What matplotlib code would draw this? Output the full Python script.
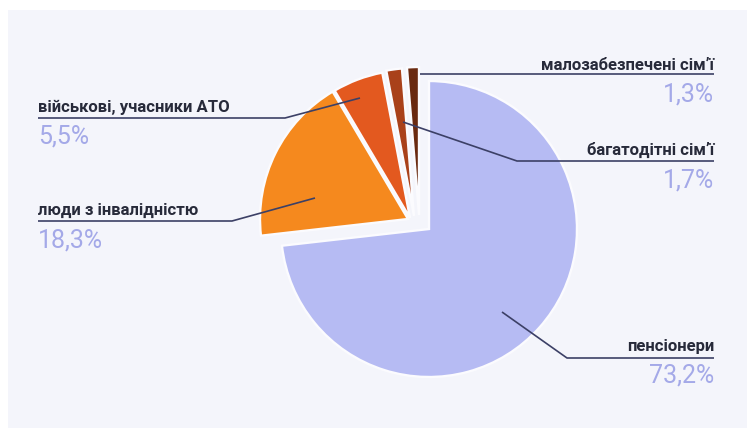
import matplotlib
matplotlib.use("Agg")
import matplotlib.pyplot as plt
from matplotlib.patches import Rectangle

# ---- data ----
categories = ["пенсіонери", "люди з інвалідністю", "військові, учасники АТО",
              "багатодітні сім\u02bcї", "малозабезпечені сім\u02bcї"]
values = [73.2, 18.3, 5.5, 1.7, 1.3]
pct_labels = ["73,2%", "18,3%", "5,5%", "1,7%", "1,3%"]

colors = ["#b6bbf3", "#f5891e", "#e3591f", "#a9411a", "#6a2a10"]

W, H = 747, 428
fig = plt.figure(figsize=(W / 100, H / 100), dpi=100)
fig.patch.set_facecolor("white")
ax = fig.add_axes([0, 0, 1, 1])
ax.set_xlim(0, W)
ax.set_ylim(0, H)
ax.set_aspect("equal")
ax.axis("off")

def Y(ypx):
    return H - ypx

# panel background
ax.add_patch(Rectangle((8, 0), W - 8, H - 10, facecolor="#f4f5fb", edgecolor="none", zorder=0))

cx, cy, R = 429, Y(229), 148
wedges, _ = ax.pie(values, colors=colors, startangle=90, counterclock=False,
                   center=(cx, cy), radius=R, frame=True,
                   wedgeprops=dict(edgecolor="#fbfbfe", linewidth=1.7))
# displacement of the smaller slices (style offsets, px)
shifts = [(0, 0), (-21, 10), (-19, 11), (-15, 13), (-10, 14)]
for w, (dx, dy) in zip(wedges, shifts):
    w.set_center((cx + dx, cy + dy))
    w.set_zorder(2)
ax.set_xlim(0, W)
ax.set_ylim(0, H)
ax.axis("off")

line_c = "#3c4066"
lab_c = "#272a3a"
pct_c = "#a4a9e8"
lab_font = dict(family=["Roboto", "DejaVu Sans"], fontsize=12, fontweight="semibold", color=lab_c)
pct_font = dict(family=["Roboto", "DejaVu Sans"], fontsize=18, color=pct_c)

def leader(pts):
    xs = [p[0] for p in pts]
    ys = [Y(p[1]) for p in pts]
    ax.plot(xs, ys, color=line_c, lw=1.2, zorder=5, solid_capstyle="butt")

R_X, L_X = 714, 38
# малозабезпечені
leader([(420, 74), (R_X, 74)])
ax.text(R_X, Y(70), categories[4], ha="right", va="baseline", **lab_font)
ax.text(R_X, Y(101), pct_labels[4], ha="right", va="baseline", **pct_font)
# багатодітні
leader([(403, 122), (517, 161), (R_X, 161)])
ax.text(R_X, Y(155), categories[3], ha="right", va="baseline", **lab_font)
ax.text(R_X, Y(187), pct_labels[3], ha="right", va="baseline", **pct_font)
# військові
leader([(360, 98), (285, 118), (L_X, 118)])
ax.text(L_X, Y(112), categories[2], ha="left", va="baseline", **lab_font)
ax.text(L_X, Y(143), pct_labels[2], ha="left", va="baseline", **pct_font)
# люди з інвалідністю
leader([(315, 198), (232, 221), (L_X, 221)])
ax.text(L_X, Y(215), categories[1], ha="left", va="baseline", **lab_font)
ax.text(L_X, Y(247), pct_labels[1], ha="left", va="baseline", **pct_font)
# пенсіонери
leader([(502, 312), (567, 358), (R_X, 358)])
ax.text(R_X, Y(351), categories[0], ha="right", va="baseline", **lab_font)
ax.text(R_X, Y(383), pct_labels[0], ha="right", va="baseline", **pct_font)

fig.savefig("out.png", dpi=100, facecolor=fig.get_facecolor())
